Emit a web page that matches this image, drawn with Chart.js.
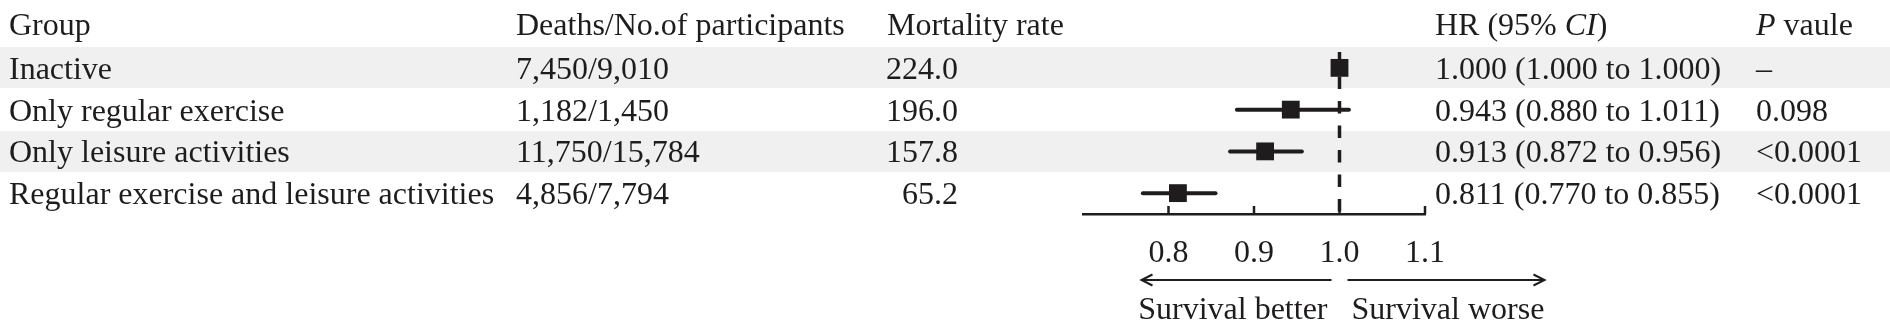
<!DOCTYPE html>
<html>
<head>
<meta charset="utf-8">
<script src="https://cdn.jsdelivr.net/npm/chart.js@4/dist/chart.umd.min.js"></script>
<style>
  html, body { margin: 0; padding: 0; background: #fff; }
  #wrap { width: 1890px; height: 330px; }
</style>
</head>
<body>
<div id="wrap"><canvas id="forest" width="1890" height="330"></canvas></div>
<script>
// table columns
const groups = ['Inactive', 'Only regular exercise', 'Only leisure activities', 'Regular exercise and leisure activities']
const deathsOfParticipants = ['7,450/9,010', '1,182/1,450', '11,750/15,784', '4,856/7,794']
const mortalityRates = [224.0, 196.0, 157.8, 65.2]
const hazardRatios = [1.000, 0.943, 0.913, 0.811]
const ciLower = [1.000, 0.880, 0.872, 0.770]
const ciUpper = [1.000, 1.011, 0.956, 0.855]
const pValues = ['\u2013', '0.098', '<0.0001', '<0.0001']
const xTickValues = [0.8, 0.9, 1.0, 1.1]
const xMin = 0.7
const xMax = 1.1
const refValue = 1.0

const FONT = '"Liberation Serif", "Times New Roman", serif'
const FONT_SIZE = 32
const INK = '#1f1c1d'
const BAND = '#eff0ef'

const rows = groups.map((g, i) => i + 1)

// draw a run of text pieces, some in italic
const drawRuns = (ctx, runs, x, y) => {
    let cx = x
    for (const run of runs) {
        ctx.font = (run.italic ? 'italic ' : '') + FONT_SIZE + 'px ' + FONT
        ctx.fillText(run.text, cx, y)
        cx += ctx.measureText(run.text).width
    }
}

const drawArrow = (ctx, x1, x2, y) => {
    const dir = Math.sign(x2 - x1)
    ctx.beginPath()
    ctx.moveTo(x1, y)
    ctx.lineTo(x2, y)
    ctx.moveTo(x2 - dir * 11, y - 5.5)
    ctx.lineTo(x2, y)
    ctx.lineTo(x2 - dir * 11, y + 5.5)
    ctx.stroke()
}

const forestTable = {
    id: 'forestTable',
    beforeDraw(chart) {
        const { ctx, scales: { y } } = chart
        const half = (y.getPixelForValue(2) - y.getPixelForValue(1)) / 2
        ctx.save()
        ctx.fillStyle = BAND
        rows.forEach((r, i) => {
            if (i % 2 === 0) {
                const cy = y.getPixelForValue(r)
                ctx.fillRect(0, Math.round(cy - half), chart.width, Math.round(2 * half) - 1)
            }
        })
        ctx.restore()
    },
    afterDraw(chart) {
        const { ctx, scales: { x, y } } = chart
        ctx.save()
        ctx.fillStyle = INK
        ctx.strokeStyle = INK
        ctx.textBaseline = 'alphabetic'
        ctx.font = FONT_SIZE + 'px ' + FONT

        // tick marks point up into the plot
        ctx.lineWidth = 2.5
        const axisY = chart.chartArea.bottom
        x.ticks.forEach((t, i) => {
            const px = x.getPixelForTick(i)
            ctx.beginPath()
            ctx.moveTo(px, axisY)
            ctx.lineTo(px, axisY - 8)
            ctx.stroke()
        })

        // header
        const headY = y.getPixelForValue(0) + 9
        ctx.textAlign = 'left'
        ctx.fillText('Group', 9, headY)
        ctx.fillText('Deaths/No.of participants', 516, headY)
        ctx.fillText('Mortality rate', 887, headY)
        drawRuns(ctx, [{ text: 'HR (95% ' }, { text: 'CI', italic: true }, { text: ')' }], 1435, headY)
        drawRuns(ctx, [{ text: 'P', italic: true }, { text: ' vaule' }], 1756, headY)

        // rows
        ctx.font = FONT_SIZE + 'px ' + FONT
        rows.forEach((r, i) => {
            const by = y.getPixelForValue(r) + 11
            ctx.textAlign = 'left'
            ctx.fillText(groups[i], 9, by)
            ctx.fillText(deathsOfParticipants[i], 516, by)
            ctx.fillText(hazardRatios[i].toFixed(3) + ' (' + ciLower[i].toFixed(3) + ' to ' + ciUpper[i].toFixed(3) + ')', 1435, by)
            ctx.fillText(pValues[i], 1756, by)
            ctx.textAlign = 'right'
            ctx.fillText(mortalityRates[i].toFixed(1), 958, by)
        })

        // direction arrows under the axis
        const ref = x.getPixelForValue(refValue)
        ctx.lineWidth = 2
        drawArrow(ctx, ref - 8, ref - 198, 280)
        drawArrow(ctx, ref + 8, ref + 205, 280)
        ctx.textAlign = 'right'
        ctx.fillText('Survival better', ref - 12, 319)
        ctx.textAlign = 'left'
        ctx.fillText('Survival worse', ref + 12, 319)
        ctx.restore()
    }
}

// confidence interval segments, one per row
const ciDatasets = rows.map((r, i) => ({
    type: 'line',
    data: [{ x: ciLower[i], y: r }, { x: ciUpper[i], y: r }],
    borderColor: INK,
    borderWidth: 4,
    borderCapStyle: 'round',
    pointRadius: 0,
    order: 2
}))

const ctx = document.getElementById('forest')
new Chart(ctx, {
    type: 'scatter',
    data: {
        datasets: [
            {
                type: 'line',
                data: [{ x: refValue, y: 0.62 }, { x: refValue, y: 4.5 }],
                borderColor: INK,
                borderWidth: 3.5,
                borderDash: [12.5, 12],
                pointRadius: 0,
                order: 3
            },
            ...ciDatasets,
            {
                type: 'scatter',
                data: rows.map((r, i) => ({ x: hazardRatios[i], y: r })),
                pointStyle: 'rect',
                pointRadius: 12.6,
                pointBorderWidth: 0,
                backgroundColor: INK,
                borderColor: INK,
                order: 1
            }
        ]
    },
    options: {
        responsive: false,
        animation: false,
        devicePixelRatio: 1,
        layout: { padding: { left: 1083, right: 465, top: 47, bottom: 0 } },
        plugins: { legend: { display: false }, tooltip: { enabled: false } },
        scales: {
            x: {
                type: 'linear',
                position: 'bottom',
                min: xMin,
                max: xMax,
                afterBuildTicks: (scale) => { scale.ticks = xTickValues.map(v => ({ value: v })) },
                afterFit: (scale) => { scale.height = 116 },
                grid: { display: false, drawTicks: false },
                border: { display: true, color: INK, width: 2.5 },
                ticks: {
                    padding: 20,
                    color: INK,
                    maxRotation: 0,
                    autoSkip: false,
                    font: { family: FONT, size: FONT_SIZE },
                    callback: (v) => Number(v).toFixed(1)
                }
            },
            y: {
                type: 'linear',
                display: false,
                reverse: true,
                min: 0.5,
                max: 4.5
            }
        }
    },
    plugins: [forestTable]
})
</script>
</body>
</html>
